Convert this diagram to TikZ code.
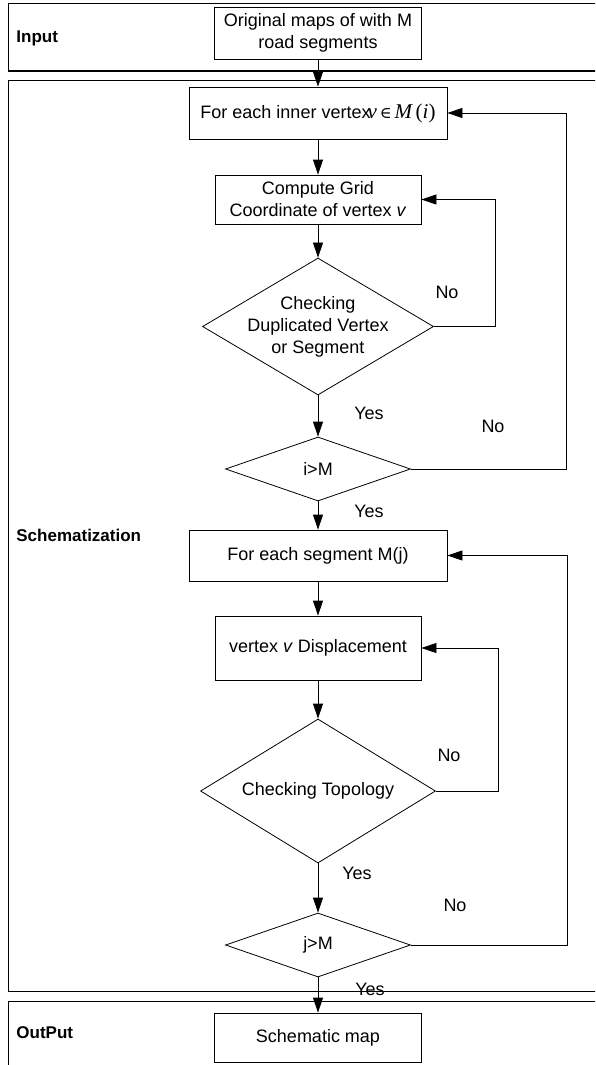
\documentclass[tikz,border=0pt]{standalone}
\usepackage{fontspec}
\setmainfont{Liberation Sans}
\newfontfamily\tmsfont{Liberation Serif}
\newfontfamily\elemfont{DejaVu Serif}
\usepackage{tikz}
\usetikzlibrary{shapes.geometric,arrows.meta}

\begin{document}
\begin{tikzpicture}[x=1pt, y=-1pt, line width=0.8pt,
    font=\fontsize{18}{22}\selectfont,
    box/.style={draw, align=center, inner sep=0pt},
    decision/.style={draw, diamond, align=center, inner sep=0pt},
    lanetext/.style={anchor=west, inner sep=0pt, font=\fontsize{17}{20}\selectfont\bfseries},
    arr/.style={-{Triangle[length=15pt,width=10pt]}}]
  	\useasboundingbox (0,0) rectangle (595,1065);
  	\clip (0,0) rectangle (595,1065);
  	% lanes
  	\draw[line width=1pt] (8,4) rectangle (620,71);
  	\draw[line width=1pt] (8,80) rectangle (620,991);
  	\draw[line width=1pt] (8,1001) rectangle (620,1090);
  	\node[lanetext] (input) at (16,38) {Input};
  	\node[lanetext] (schem) at (16,535) {Schematization};
  	\node[lanetext] (output) at (16,1033) {OutPut};
  	% steps
  	\node[box, minimum width=207pt, minimum height=52pt] (orig) at (318,33) {Original maps of with M\\road segments};
  	\node[box, minimum width=258pt, minimum height=52pt] (inner) at (318,113)
  	  {For each inner vertex\kern-3pt{\tmsfont\fontsize{21}{22}\selectfont\itshape v}\,{\elemfont\fontsize{16}{18}\selectfont ∈}\,{\tmsfont\fontsize{21}{22}\selectfont\itshape M\,\upshape(\itshape i\/\upshape)}};
  	\node[box, minimum width=206pt, minimum height=49pt] (grid) at (318,199.5) {Compute Grid\\Coordinate of vertex \textit{v}};
  	\node[decision, minimum width=231pt, minimum height=137pt, shape aspect=1.69,
  	  label={[name=duptext, align=center]center:{Checking\\Duplicated Vertex\\or Segment}}] (dup) at (318,326.5) {};
  	\node[decision, minimum width=185pt, minimum height=64pt, shape aspect=2.9] (im) at (318,469) {i>M};
  	\node[box, minimum width=258pt, minimum height=51pt] (seg) at (318,555.5) {For each segment M(j)};
  	\node[box, minimum width=206pt, minimum height=64pt] (disp) at (318,648) {vertex \textit{v} Displacement};
  	\node[decision, minimum width=235pt, minimum height=144pt, shape aspect=1.63] (topo) at (318,791) {Checking Topology};
  	\node[decision, minimum width=185pt, minimum height=64pt, shape aspect=2.9] (jm) at (318,945) {j>M};
  	\node[box, minimum width=207pt, minimum height=49pt] (map) at (318,1037.5) {Schematic map};
  	% yes / no
  	\node (no1) at (447,292) {No};
  	\node (yes1) at (369,413) {Yes};
  	\node (no2) at (493,426) {No};
  	\node (yes2) at (369,511) {Yes};
  	\node (no3) at (449,755) {No};
  	\node (yes3) at (357,873) {Yes};
  	\node (no4) at (455,905) {No};
  	\node (yes4) at (370,989) {Yes};
  	% flow
  	\draw[arr] (orig) -- (inner);
  	\draw[arr] (inner) -- (grid);
  	\draw[arr] (grid) -- (dup);
  	\draw[arr] (dup.east) -- ++(61,0) |- (grid.east);
  	\draw[arr] (dup) -- (im);
  	\draw[arr] (im.east) -- ++(155,0) |- (inner.east);
  	\draw[arr] (im) -- (seg);
  	\draw[arr] (seg) -- (disp);
  	\draw[arr] (disp) -- (topo);
  	\draw[arr] (topo.east) -- ++(62,0) |- (disp.east);
  	\draw[arr] (topo) -- (jm);
  	\draw[arr] (jm.east) -- ++(156,0) |- (seg.east);
  	\draw[arr] (jm) -- (map);
\end{tikzpicture}
\end{document}
